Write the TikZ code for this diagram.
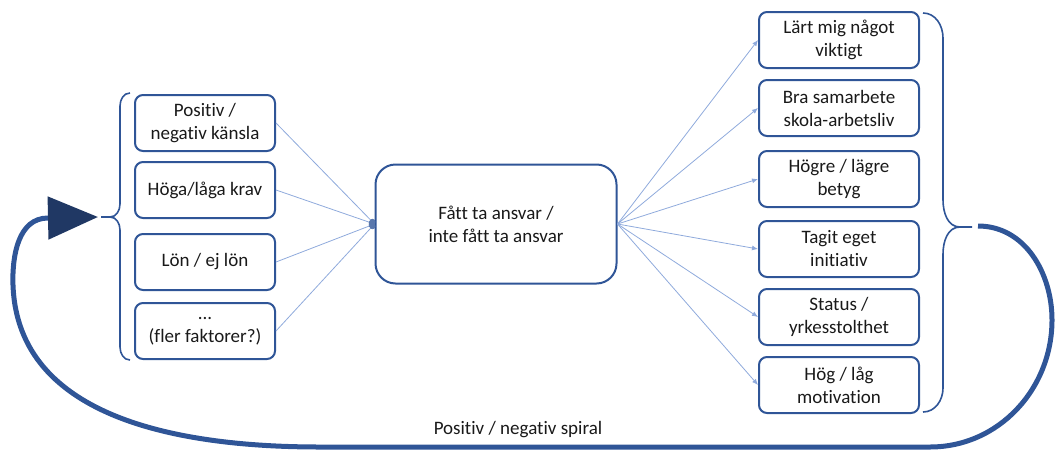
\documentclass[tikz,border=0pt]{standalone}
\usepackage{fontspec}
\setmainfont{Carlito}[Ligatures=NoCommon]
\usepackage{tikz}
\usetikzlibrary{arrows.meta}

\definecolor{boxblue}{HTML}{2F5597}
\definecolor{lineblue}{HTML}{8FAADC}
\definecolor{navy}{HTML}{203864}

\tikzset{
  txt/.style={font=\fontsize{19}{23}\selectfont, text=black!90, align=center},
  faktor/.style={txt, draw=boxblue, line width=2pt, rounded corners=8pt,
    minimum width=140pt, minimum height=56pt, inner sep=2pt},
  utfall/.style={faktor, minimum width=160pt},
  mitt/.style={txt, draw=boxblue, line width=2pt, rounded corners=20pt,
    minimum width=241pt, minimum height=119pt},
  tunn/.style={draw=lineblue, line width=0.8pt},
  klammer/.style={draw=boxblue, line width=1.6pt},
  spiral/.style={draw=boxblue, line width=5pt}
}

\begin{document}
\begin{tikzpicture}[x=1pt, y=-1pt]
    \useasboundingbox (0,0) rectangle (1056,450);
    % left factors
    \node[faktor] (P) at (205,123) {Positiv /\\negativ känsla};
    \node[faktor] (H) at (205,190) {Höga/låga krav};
    \node[faktor] (L) at (205,262) {Lön / ej lön};
    \node[faktor] (F) at (205,331) {...\\(fler faktorer?)};
    % centre
    \node[mitt] (A) at (496,224) {Fått ta ansvar /\\inte fått ta ansvar};
    % right outcomes
    \node[utfall] (U1) at (839,40) {Lärt mig något\\viktigt};
    \node[utfall] (U2) at (839,108) {Bra samarbete\\skola-arbetsliv};
    \node[utfall] (U3) at (839,179) {Högre / lägre\\betyg};
    \node[utfall] (U4) at (839,249) {Tagit eget\\initiativ};
    \node[utfall] (U5) at (839,317) {Status /\\yrkesstolthet};
    \node[utfall] (U6) at (839,385) {Hög / låg\\motivation};
    \node[txt] (S) at (518,430) {Positiv / negativ spiral};

    \foreach \n in {P,H,L,F}
      \draw[tunn, -{Circle[length=6pt,width=6pt,color=boxblue!80]}] (\n.east) -- (A.west);
    \foreach \n in {U1,U2,U3,U4,U5,U6}
      \draw[tunn, -{Latex[length=6pt,width=5pt]}] (A.east) -- (\n.west);

    % braces
    \coordinate (vk) at (101,217);
    \draw[klammer] (130,93) to[out=180,in=90] (120,106) -- (120,204)
      to[out=-90,in=0] (110,217) -- (vk);
    \draw[klammer] (110,217) to[out=0,in=90] (120,230) -- (120,347)
      to[out=-90,in=180] (130,360);
    \coordinate (hk) at (972,227);
    \draw[klammer] (923,13) to[out=0,in=90] (943,38) -- (943,200)
      to[out=-90,in=180] (960,227) -- (hk);
    \draw[klammer] (960,227) to[out=180,in=90] (943,254) -- (943,388)
      to[out=-90,in=0] (923,412);

    % spiral back
    \coordinate (s0) at (978,226);
    \coordinate (s1) at (98,217);
    \draw[spiral, -{Triangle[length=50pt,width=42pt,color=navy]}]
      (s0) to[out=0,in=90] (1052,320) to[out=-90,in=0] (930,447)
      -- (320,447) to[out=180,in=-88] (13,285) to[out=92,in=180] (48,218)
      -- (s1);
\end{tikzpicture}
\end{document}
